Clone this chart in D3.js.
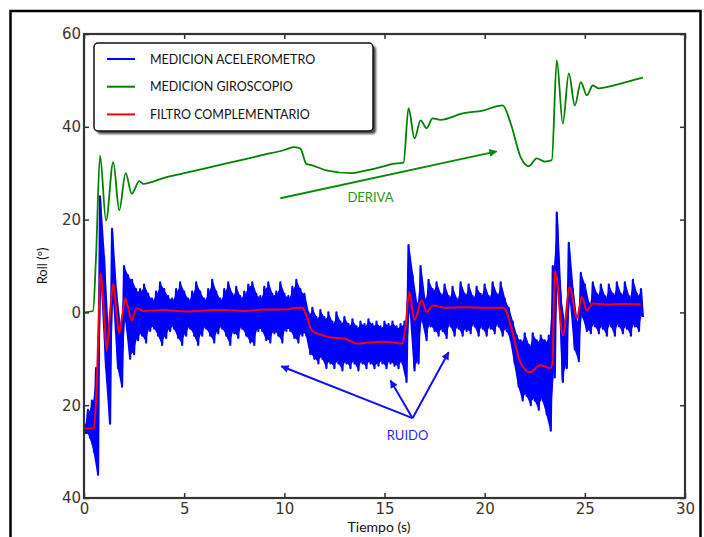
<!DOCTYPE html>
<html>
<head>
<meta charset="utf-8">
<script src="https://cdn.jsdelivr.net/npm/d3@7"></script>
<style>
  body { margin: 0; background: #fff; }
  svg { display: block; }
</style>
</head>
<body>
<div id="chart"></div>
<script>
// size of svg
const width = 704, height = 537;

// axis ticks
const xTicks = [0, 5, 10, 15, 20, 25, 30];
const xTickLabels = ["0", "5", "10", "15", "20", "25", "30"];
const yTicks = [-40, -20, 0, 20, 40, 60];
const yTickLabels = ["40", "20", "0", "20", "40", "60"];

// legend
const seriesNames = ["MEDICION ACELEROMETRO", "MEDICION GIROSCOPIO", "FILTRO COMPLEMENTARIO"];
const seriesColors = ["#0000ff", "#008000", "#ff0000"];

// accelerometer: noisy, read as upper / lower extent every 0.2 s
const accelStep = 0.2;
const accelHigh = [
  -24, -21, -19, -12, 25, 12, -5, 18, 5, -3,
  10, 8, 7, 5, 5, 6, 4, 3, 4.5, 6.5,
  5, 3.5, 3, 5, 6.5, 4.5, 3, 4.5, 6.5, 4.5,
  3, 5, 7, 4.5, 3, 5, 6.5, 4, 5.5, 3.5,
  4.5, 6, 6.5, 4, 3.5, 5.5, 6.5, 4, 4.5, 6.5,
  4, 3.5, 5.5, 7, 5, 4, 0, 1, -1, 0.5,
  -1, 0, -2, 0, -2, -1, -2.5, -1.5, -3, -2,
  -2.5, -1.5, -2.5, -2, -3, -2, -2.5, -2, -3, -2.5,
  -2, 14.5, 8, 2, 10, 3, 7, 5, 6.5, 4,
  6, 3.5, 5.5, 3, 6.5, 4, 6, 3.5, 5.5, 4,
  6, 3.5, 6.5, 4, 6.5, 3, 1, -2, -5, -6,
  -4.5, -7, -4.5, -6, -5, -6, -5, 10, 21.5, 3,
  -3, 15, 5, -2, 8.5, 6, 2, 6.5, 4, 6,
  3.5, 6, 4, 6.5, 4, 6.5, 3.5, 7, 4, 5
];
const accelLow = [
  -26, -27, -30, -35, 5, -12, -24, 2, -12, -16,
  -2, -10, -9, -6, -5, -6.5, -4, -3.5, -5, -7,
  -5.5, -4, -3.5, -5.5, -7, -5, -3.5, -5, -7, -5,
  -3.5, -5, -6.5, -4.5, -3.5, -5, -7, -4.5, -5.5, -3.5,
  -5, -6.5, -7, -4, -4, -6, -6.5, -4.5, -5, -6.5,
  -4, -4, -5.5, -6.5, -5, -5, -9, -10, -11, -10,
  -12, -11, -12, -11, -12.5, -11, -12, -11, -12.5, -11,
  -12, -11, -12, -11.5, -11, -12, -11, -11.5, -12, -11,
  -15, 0, -12.5, -11, -2, -6, -3, -4, -5, -4,
  -5.5, -3, -5, -3.5, -5, -4, -4.5, -3, -5, -3.5,
  -5, -3.5, -4.5, -3, -5, -4, -6, -11, -16, -19,
  -18, -20, -19, -21, -19, -22, -25.5, -14, 8, -15,
  -12, 2, -8, -10.5, -1, -4, -4.5, -3, -4.5, -3.5,
  -5, -3, -5, -3, -4.5, -3.5, -5, -3, -4, -1
];

// gyroscope
const gyroTime = [0, 0.45, 0.6, 0.8, 1.1, 1.46, 1.76, 2.08, 2.38, 2.76,
  2.96, 4, 5, 6, 7, 8, 9, 10, 10.45, 10.8,
  11.1, 11.4, 12.1, 13.3, 14.0, 14.8, 15.4, 15.95, 16.2, 16.5,
  16.8, 17.1, 17.4, 17.8, 18.9, 19.9, 20.9, 21.3, 21.8, 22.2,
  22.6, 23.0, 23.35, 23.6, 23.9, 24.2, 24.5, 24.8, 25.1, 25.4,
  25.7, 26.5, 27.2, 27.9];
const gyroRoll = [0, 0.3, 12, 33.8, 19.8, 32.4, 22, 30, 25.6, 28.3,
  27.7, 29, 30, 31, 32, 33, 34, 35, 35.6, 35.3,
  32, 31.7, 30.6, 30, 30.5, 31.3, 32, 32.3, 44, 37.5,
  41.4, 39.7, 41.8, 41.5, 42.9, 43.5, 44.6, 40.7, 33.4, 31.5,
  33.2, 32.5, 32.8, 54.3, 40.7, 51.5, 44.6, 49.6, 46.8, 48.9,
  48.3, 49, 49.8, 50.6];

// complementary filter
const filterTime = [0, 0.5, 0.63, 0.83, 1.0, 1.13, 1.3, 1.46, 1.6, 1.76,
  1.9, 2.05, 2.2, 2.38, 2.63, 3, 4, 5, 6, 7,
  8, 9, 10, 10.6, 10.9, 11.1, 11.37, 11.8, 12.3, 13,
  13.6, 14.2, 14.9, 15.5, 15.9, 16.05, 16.24, 16.5, 16.86, 17.1,
  17.44, 18, 19, 20, 20.9, 21.1, 21.4, 21.77, 22.27, 22.77,
  23.27, 23.38, 23.5, 23.6, 23.9, 24.25, 24.6, 24.85, 25.1, 25.4,
  26, 27, 27.8];
const filterRoll = [-25, -25, -16, 8.4, 0, -8.2, 0, 6.2, 1, -4.5,
  -1, 3, 1, -1.7, 0.9, 0.3, 0.5, 0.2, 0.4, 0.5,
  0.3, 0.6, 0.6, 1, 1, -0.6, -3.9, -4.8, -5.4, -5.6,
  -6.7, -6.5, -6.3, -6.5, -6.7, -3, 4.4, -1.7, 2.6, 0.1,
  1.5, 1, 1.1, 1, 1, 0, -4.5, -10.7, -12.9, -11.4,
  -12, -11, 9, 7, -5, 5.5, -1.3, 3.3, 0.4, 1.9,
  1.7, 1.8, 1.7];

// annotations (data coordinates)
const derivaArrow = [[9.8, 24.6], [20.6, 34.7]];
const derivaLabel = {t: 14.3, v: 23.8, text: "DERIVA"};
const ruidoFrom = [16.4, -22.8];
const ruidoTargets = [[9.85, -11.6], [15.3, -14.7], [18.2, -8.6]];
const ruidoLabel = {t: 16.15, v: -27.5, text: "RUIDO"};

const margin = {top: 34, right: 19, bottom: 39, left: 84};

let svg = d3.select('#chart')
  .append('svg')
    .attr('width', width)
    .attr('height', height);

// outer frame of the picture
svg.append('rect')
  .attr('x', 10.5).attr('y', 11)
  .attr('width', 690).attr('height', 560)
  .attr('fill', 'none')
  .attr('stroke', '#000')
  .attr('stroke-width', 2.5);

const x = d3.scaleLinear().domain([0, 30]).range([margin.left, width - margin.right]);
const y = d3.scaleLinear().domain([-40, 60]).range([height - margin.bottom, margin.top]);

const defs = svg.append('defs');
defs.append('clipPath').attr('id', 'plotclip')
  .append('rect')
    .attr('x', x(0)).attr('y', y(60))
    .attr('width', x(30) - x(0)).attr('height', y(-40) - y(60));

// arrow heads
[["green", "#0a8a0a"], ["blue", "#1010f0"]].forEach(([id, c]) => {
  defs.append('marker')
    .attr('id', 'head-' + id)
    .attr('viewBox', '0 0 10 10')
    .attr('refX', 9).attr('refY', 5)
    .attr('markerWidth', 10).attr('markerHeight', 8)
    .attr('markerUnits', 'userSpaceOnUse')
    .attr('orient', 'auto')
    .append('path')
      .attr('d', 'M0,0 L10,5 L0,10 Z')
      .attr('fill', c);
});

// legend shadow blur
defs.append('filter').attr('id', 'shadow')
  .append('feGaussianBlur').attr('stdDeviation', 1.2);

const plotG = svg.append('g').attr('clip-path', 'url(#plotclip)');

// accelerometer: solid band between the extents plus the zigzag on top
const accelBand = accelHigh.map((h, i) => [i * accelStep + accelStep / 4, h, accelLow[i]]);
plotG.append('path')
  .datum(accelBand)
  .attr('fill', seriesColors[0])
  .attr('d', d3.area()
    .x(d => x(d[0]))
    .y0(d => y(d[2]) - 2)
    .y1(d => y(d[1]) + 2));

const accelPoints = [];
accelHigh.forEach((h, i) => {
  accelPoints.push([i * accelStep, h]);
  accelPoints.push([i * accelStep + accelStep / 2, accelLow[i]]);
});

plotG.append('path')
  .datum(accelPoints)
  .attr('fill', 'none')
  .attr('stroke', seriesColors[0])
  .attr('stroke-width', 2.2)
  .attr('stroke-linejoin', 'round')
  .attr('d', d3.line().x(d => x(d[0])).y(d => y(d[1])));

plotG.append('path')
  .datum(gyroTime.map((t, i) => [t, gyroRoll[i]]))
  .attr('fill', 'none')
  .attr('stroke', seriesColors[1])
  .attr('stroke-width', 1.8)
  .attr('d', d3.line().curve(d3.curveMonotoneX).x(d => x(d[0])).y(d => y(d[1])));

plotG.append('path')
  .datum(filterTime.map((t, i) => [t, filterRoll[i]]))
  .attr('fill', 'none')
  .attr('stroke', seriesColors[2])
  .attr('stroke-width', 2)
  .attr('d', d3.line().curve(d3.curveMonotoneX).x(d => x(d[0])).y(d => y(d[1])));

// axes, ticks pointing inward on all four sides
const tickFont = 'DejaVu Sans, sans-serif';
svg.append('g')
  .attr('transform', `translate(0,${y(-40)})`)
  .call(d3.axisBottom(x).tickValues(xTicks).tickSizeInner(-5).tickSizeOuter(0).tickPadding(5)
    .tickFormat((d, i) => xTickLabels[i]));
svg.append('g')
  .attr('transform', `translate(${x(0)},0)`)
  .call(d3.axisLeft(y).tickValues(yTicks).tickSizeInner(-5).tickSizeOuter(0).tickPadding(3)
    .tickFormat((d, i) => yTickLabels[i]));
svg.append('g')
  .attr('transform', `translate(0,${y(60)})`)
  .call(d3.axisTop(x).tickValues(xTicks).tickSizeInner(-5).tickSizeOuter(0).tickFormat(''));
svg.append('g')
  .attr('transform', `translate(${x(30)},0)`)
  .call(d3.axisRight(y).tickValues(yTicks).tickSizeInner(-5).tickSizeOuter(0).tickFormat(''));

svg.selectAll('.domain').remove();
svg.selectAll('.tick line').attr('stroke', '#333').attr('stroke-width', 1.5);
svg.selectAll('.tick text')
  .attr('font-family', tickFont)
  .attr('font-size', 15)
  .attr('fill', '#3e3528');

svg.append('rect')
  .attr('x', x(0)).attr('y', y(60))
  .attr('width', x(30) - x(0)).attr('height', y(-40) - y(60))
  .attr('fill', 'none')
  .attr('stroke', '#333')
  .attr('stroke-width', 2.2);

// axis titles
const labelFont = 'Lato, sans-serif';
svg.append('text')
  .attr('x', 379).attr('y', 532)
  .attr('text-anchor', 'middle')
  .attr('font-family', labelFont)
  .attr('font-size', 14)
  .attr('fill', '#111')
  .text('Tiempo (s)');
svg.append('text')
  .attr('transform', `translate(47,${y(10)}) rotate(-90)`)
  .attr('text-anchor', 'middle')
  .attr('font-family', labelFont)
  .attr('font-size', 13)
  .attr('fill', '#111')
  .text('Roll (º)');

// legend
const legendG = svg.append('g').attr('transform', 'translate(94,43)');
legendG.append('rect')
  .attr('x', 3).attr('y', 3)
  .attr('width', 279).attr('height', 88).attr('rx', 4)
  .attr('fill', '#444')
  .attr('filter', 'url(#shadow)');
legendG.append('rect')
  .attr('width', 279).attr('height', 88).attr('rx', 4)
  .attr('fill', '#fff')
  .attr('stroke', '#111')
  .attr('stroke-width', 1.5);
seriesNames.forEach((name, i) => {
  const ly = 16 + i * 27.7;
  legendG.append('line')
    .attr('x1', 13).attr('x2', 41)
    .attr('y1', ly).attr('y2', ly)
    .attr('stroke', seriesColors[i])
    .attr('stroke-width', 2);
  legendG.append('text')
    .attr('x', 56).attr('y', ly)
    .attr('dy', '0.36em')
    .attr('font-family', labelFont)
    .attr('font-size', 12.5)
    .attr('fill', '#111')
    .text(name);
});

// annotations
svg.append('line')
  .attr('x1', x(derivaArrow[0][0])).attr('y1', y(derivaArrow[0][1]))
  .attr('x2', x(derivaArrow[1][0])).attr('y2', y(derivaArrow[1][1]))
  .attr('stroke', '#0a8a0a')
  .attr('stroke-width', 2)
  .attr('marker-end', 'url(#head-green)');
svg.append('text')
  .attr('x', x(derivaLabel.t)).attr('y', y(derivaLabel.v))
  .attr('text-anchor', 'middle')
  .attr('font-family', labelFont)
  .attr('font-size', 13)
  .attr('fill', '#1a9a22')
  .text(derivaLabel.text);

ruidoTargets.forEach(tg => {
  svg.append('line')
    .attr('x1', x(ruidoFrom[0])).attr('y1', y(ruidoFrom[1]))
    .attr('x2', x(tg[0])).attr('y2', y(tg[1]))
    .attr('stroke', '#1010f0')
    .attr('stroke-width', 2)
    .attr('marker-end', 'url(#head-blue)');
});
svg.append('text')
  .attr('x', x(ruidoLabel.t)).attr('y', y(ruidoLabel.v))
  .attr('text-anchor', 'middle')
  .attr('font-family', labelFont)
  .attr('font-size', 13)
  .attr('fill', '#2a2af5')
  .text(ruidoLabel.text);
</script>
</body>
</html>
